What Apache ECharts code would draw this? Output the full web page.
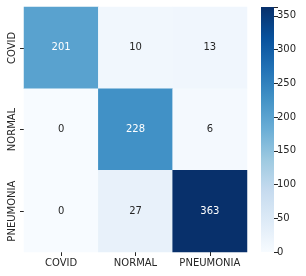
<!DOCTYPE html>
<html><head><meta charset="utf-8">
<script src="https://cdn.jsdelivr.net/npm/echarts@6/dist/echarts.min.js"></script>
<style>html,body{margin:0;padding:0;background:#fff}#c{width:306px;height:276px}</style>
</head><body><div id="c"></div>
<script>
const categories = ['COVID', 'NORMAL', 'PNEUMONIA'];
// rows = true label (top to bottom), cols = predicted
const rowCOVID = [201, 10, 13];
const rowNORMAL = [0, 228, 6];
const rowPNEUMONIA = [0, 27, 363];
const colorbarTicks = [0, 50, 100, 150, 200, 250, 300, 350];
const vMin = 0, vMax = 363;
const blues = ['#f7fbff','#deebf7','#c6dbef','#9ecae1','#6baed6','#4292c6','#2171b5','#08519c','#08306b'];

const rows = [rowCOVID, rowNORMAL, rowPNEUMONIA];
const data = [];
rows.forEach((r, i) => r.forEach((v, j) => {
  data.push({value: [j, i, v], label: {color: v > 180 ? '#ffffff' : '#262626'}});
}));

const font = 'DejaVu Sans';
const chart = echarts.init(document.getElementById('c'), null, {renderer: 'canvas'});
chart.setOption({
  animation: false,
  backgroundColor: '#fff',
  grid: [
    {left: 24, top: 7, width: 223, height: 245},
    {left: 261, top: 7, width: 13, height: 245}
  ],
  xAxis: [
    {gridIndex: 0, type: 'category', data: categories, position: 'bottom',
     axisLine: {show: false}, splitLine: {show: false},
     axisTick: {show: true, alignWithLabel: true, interval: 0, length: 4, lineStyle: {color: '#262626', width: 1}},
     axisLabel: {fontFamily: font, fontSize: 10, color: '#262626', margin: 6, interval: 0}},
    {gridIndex: 1, type: 'category', data: ['cb'], show: false}
  ],
  yAxis: [
    {gridIndex: 0, type: 'category', data: categories, inverse: true,
     axisLine: {show: false}, splitLine: {show: false},
     axisTick: {show: true, alignWithLabel: true, interval: 0, length: 4, lineStyle: {color: '#262626', width: 1}},
     axisLabel: {fontFamily: font, fontSize: 10, color: '#262626', rotate: 90, margin: 7, interval: 0, align: 'center', verticalAlign: 'bottom'}},
    {gridIndex: 1, type: 'value', min: vMin, max: vMax, interval: 50, position: 'right',
     axisLine: {show: false}, splitLine: {show: false},
     axisTick: {show: true, length: 4, lineStyle: {color: '#262626', width: 1}},
     axisLabel: {fontFamily: font, fontSize: 10, color: '#262626', margin: 3,
       customValues: colorbarTicks}}
  ],
  visualMap: {show: false, min: vMin, max: vMax, seriesIndex: 0, inRange: {color: blues}},
  series: [
    {type: 'heatmap', xAxisIndex: 0, yAxisIndex: 0, data: data,
     label: {show: true, fontFamily: font, fontSize: 10},
     itemStyle: {borderWidth: 0}},
    {type: 'bar', xAxisIndex: 1, yAxisIndex: 1, data: [vMax], barWidth: '100%', silent: true,
     itemStyle: {color: new echarts.graphic.LinearGradient(0, 1, 0, 0,
       blues.map((c, k) => ({offset: k / (blues.length - 1), color: c})))}}
  ]
});
</script></body></html>
